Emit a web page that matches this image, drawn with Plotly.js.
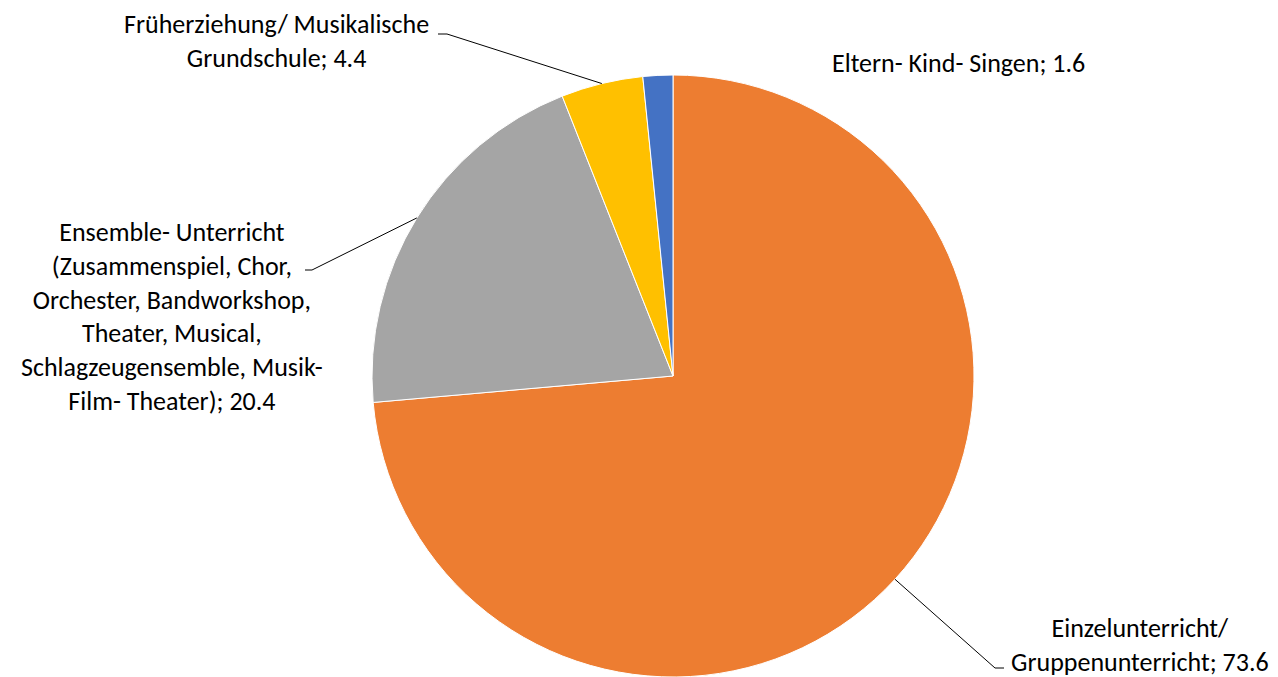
<!DOCTYPE html>
<html>
<head>
<meta charset="utf-8">
<script src="https://cdn.plot.ly/plotly-3.0.1.min.js"></script>
<style>html,body{margin:0;padding:0;background:#fff;}#chart{width:1278px;height:677px;}</style>
</head>
<body>
<div id="chart"></div>
<script>
// ---- data ----
var categories = [
  "Einzelunterricht/<br>Gruppenunterricht",
  "Ensemble- Unterricht<br>(Zusammenspiel, Chor,<br>Orchester, Bandworkshop,<br>Theater, Musical,<br>Schlagzeugensemble, Musik-<br>Film- Theater)",
  "Früherziehung/ Musikalische<br>Grundschule",
  "Eltern- Kind- Singen"
];
var values = [73.6, 20.4, 4.4, 1.6];
var colors = ["#ED7D31", "#A5A5A5", "#FFC000", "#4472C4"];

// ---- layout geometry ----
var W = 1278, H = 677;
var cx = 673, cy = 376, R = 301;
function px(x){ return x / W; }
function py(y){ return 1 - y / H; }

// label block centers (pixels) and leader-line elbows
var labelPos = [
  {x: 1140, y: 645},
  {x: 172, y: 316},
  {x: 276, y: 41},
  {x: 958, y: 63}
];
// elbow: [diagonal end x, y, horizontal tick end x] or null
var elbows = [
  [995, 668, 1004],
  [312, 270, 305],
  [447, 34, 438],
  null
];

var total = values.reduce(function(a,b){return a+b;},0);
var cum = 0;
var shapes = [];
var annotations = [];
var FONT = "Carlito, Calibri, Lato, sans-serif";
for (var i = 0; i < values.length; i++) {
  var mid = (cum + values[i] / 2) / total * 2 * Math.PI; // clockwise from 12 o'clock
  cum += values[i];
  var ex = cx + R * Math.sin(mid), ey = cy - R * Math.cos(mid);
  if (elbows[i]) {
    var e = elbows[i];
    shapes.push({type:"line", xref:"paper", yref:"paper", x0:px(ex), y0:py(ey), x1:px(e[0]), y1:py(e[1]), line:{color:"#000", width:1}});
    shapes.push({type:"line", xref:"paper", yref:"paper", x0:px(e[0]), y0:py(e[1]), x1:px(e[2]), y1:py(e[1]), line:{color:"#000", width:1}});
  }
  annotations.push({
    xref:"paper", yref:"paper", x:px(labelPos[i].x), y:py(labelPos[i].y),
    xanchor:"center", yanchor:"middle", align:"center", showarrow:false,
    text: categories[i] + "; " + values[i].toFixed(1),
    font:{family:FONT, size:26, color:"#000"}
  });
}

var data = [{
  type:"pie",
  values: values,
  labels: categories.map(function(c){return c.replace(/<br>/g," ");}),
  marker:{colors: colors, line:{color:"#fff", width:1}},
  sort:false,
  direction:"clockwise",
  rotation:0,
  textinfo:"none",
  hoverinfo:"label+value",
  domain:{x:[px(cx - R), px(cx + R)], y:[py(cy + R), py(cy - R)]}
}];

var layout = {
  width: W, height: H,
  margin:{l:0, r:0, t:0, b:0},
  paper_bgcolor:"#fff",
  showlegend:false,
  shapes: shapes,
  annotations: annotations
};

Plotly.newPlot("chart", data, layout, {displayModeBar:false, staticPlot:true});
</script>
</body>
</html>
